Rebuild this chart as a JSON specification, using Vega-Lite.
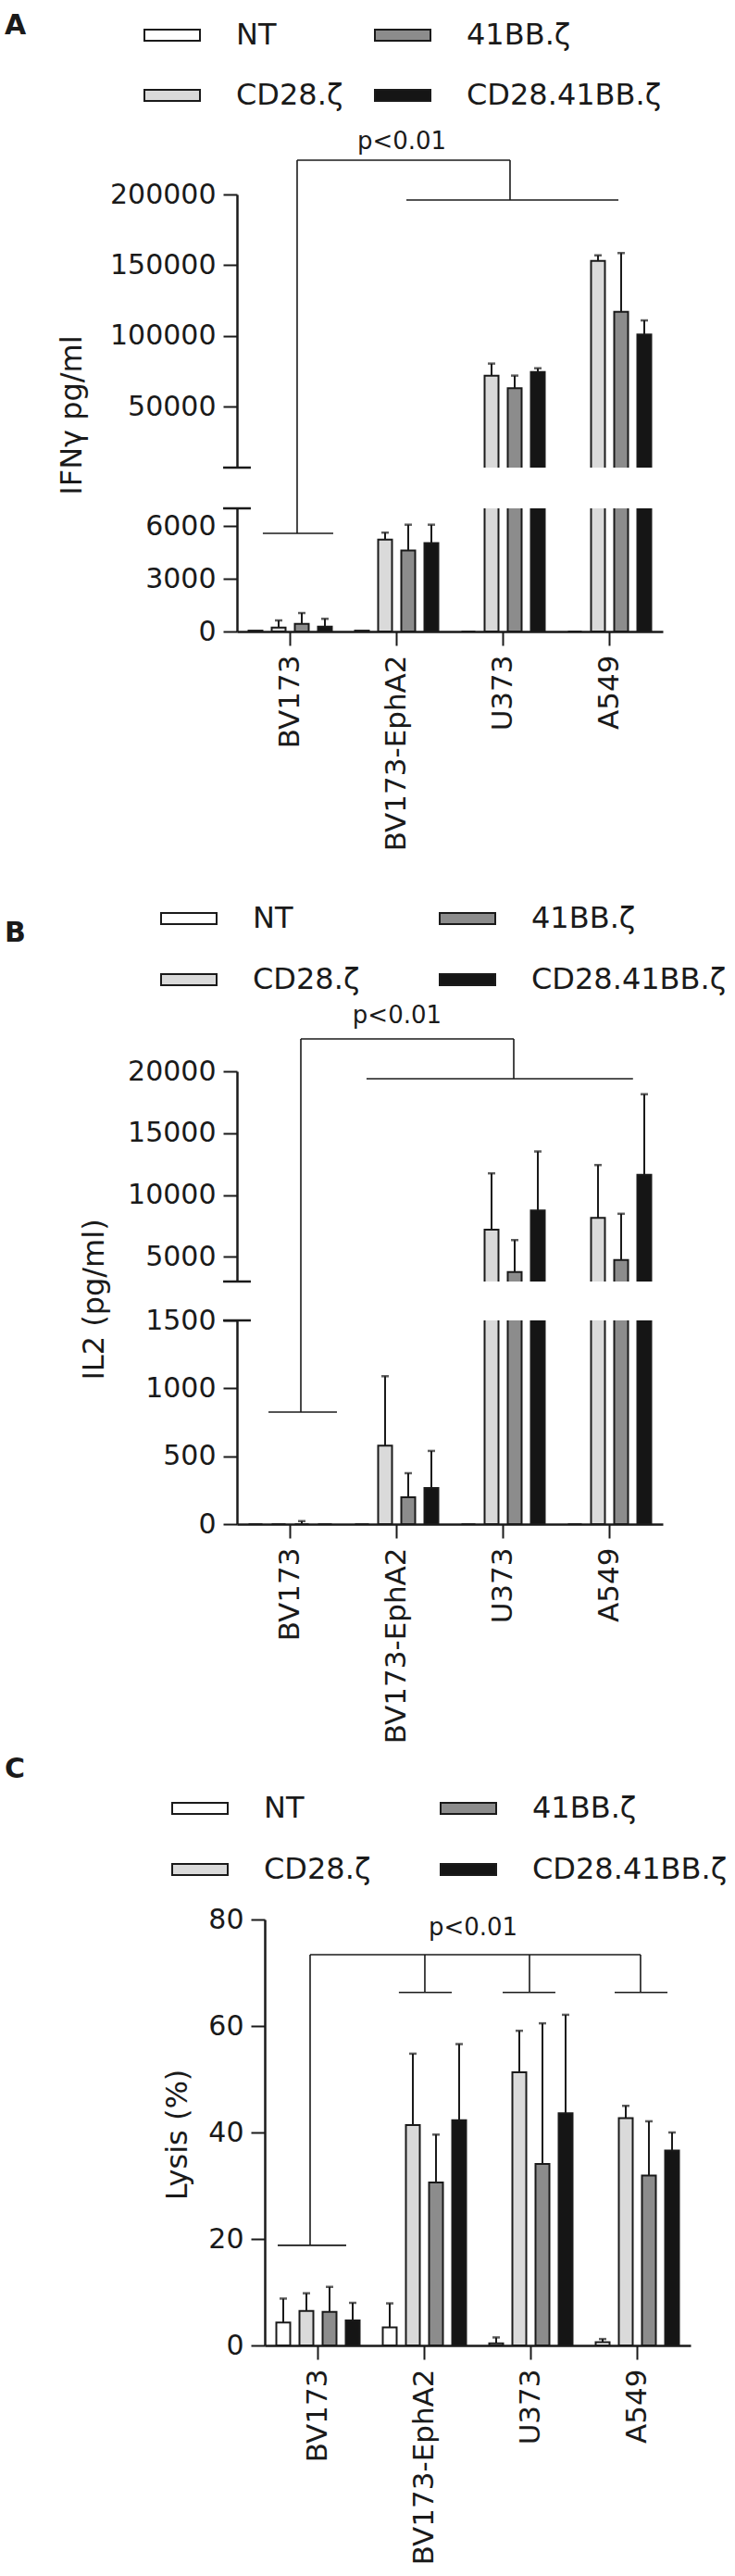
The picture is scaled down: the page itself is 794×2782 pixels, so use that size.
{
  "$schema": "https://vega.github.io/schema/vega-lite/v6.json",
  "background": "white",
  "padding": {"left": 4, "top": 7, "right": 2, "bottom": 2},
  "config": {
    "font": "DejaVu Sans",
    "view": {"stroke": null},
    "axis": {"domainColor": "#1a1a1a", "domainWidth": 2.5, "tickColor": "#1a1a1a", "tickWidth": 2, "tickSize": 15, "labelFont": "DejaVu Sans", "labelFontSize": 30, "labelColor": "#1a1a1a", "labelPadding": 8, "labelLimit": 400, "grid": false, "titleFont": "DejaVu Sans", "titleFontSize": 32, "titleFontWeight": "normal", "titleColor": "#1a1a1a"},
    "text": {"font": "DejaVu Sans", "color": "#1a1a1a"}
  },
  "datasets": {
    "ifng": [
      {"cell": "BV173", "car": "NT", "mean": 50},
      {"cell": "BV173", "car": "CD28.ζ", "mean": 230, "hi": 630},
      {"cell": "BV173", "car": "41BB.ζ", "mean": 440, "hi": 1050},
      {"cell": "BV173", "car": "CD28.41BB.ζ", "mean": 280, "hi": 720},
      {"cell": "BV173-EphA2", "car": "NT", "mean": 50},
      {"cell": "BV173-EphA2", "car": "CD28.ζ", "mean": 5230, "hi": 5620},
      {"cell": "BV173-EphA2", "car": "41BB.ζ", "mean": 4600, "hi": 6070},
      {"cell": "BV173-EphA2", "car": "CD28.41BB.ζ", "mean": 5020, "hi": 6070},
      {"cell": "U373", "car": "NT", "mean": 0},
      {"cell": "U373", "car": "CD28.ζ", "mean": 72000, "hi": 80500},
      {"cell": "U373", "car": "41BB.ζ", "mean": 63100, "hi": 72000},
      {"cell": "U373", "car": "CD28.41BB.ζ", "mean": 74600, "hi": 77200},
      {"cell": "A549", "car": "NT", "mean": 0},
      {"cell": "A549", "car": "CD28.ζ", "mean": 153100, "hi": 157000},
      {"cell": "A549", "car": "41BB.ζ", "mean": 117100, "hi": 158600},
      {"cell": "A549", "car": "CD28.41BB.ζ", "mean": 101000, "hi": 111000}
    ],
    "il2": [
      {"cell": "BV173", "car": "NT", "mean": 0},
      {"cell": "BV173", "car": "CD28.ζ", "mean": 0},
      {"cell": "BV173", "car": "41BB.ζ", "mean": 0, "hi": 22},
      {"cell": "BV173", "car": "CD28.41BB.ζ", "mean": 0},
      {"cell": "BV173-EphA2", "car": "NT", "mean": 0},
      {"cell": "BV173-EphA2", "car": "CD28.ζ", "mean": 577, "hi": 1089},
      {"cell": "BV173-EphA2", "car": "41BB.ζ", "mean": 198, "hi": 375},
      {"cell": "BV173-EphA2", "car": "CD28.41BB.ζ", "mean": 266, "hi": 539},
      {"cell": "U373", "car": "NT", "mean": 0},
      {"cell": "U373", "car": "CD28.ζ", "mean": 7200, "hi": 11750},
      {"cell": "U373", "car": "41BB.ζ", "mean": 3770, "hi": 6350},
      {"cell": "U373", "car": "CD28.41BB.ζ", "mean": 8740, "hi": 13520},
      {"cell": "A549", "car": "NT", "mean": 0},
      {"cell": "A549", "car": "CD28.ζ", "mean": 8140, "hi": 12420},
      {"cell": "A549", "car": "41BB.ζ", "mean": 4750, "hi": 8480},
      {"cell": "A549", "car": "CD28.41BB.ζ", "mean": 11640, "hi": 18150}
    ],
    "lysis": [
      {"cell": "BV173", "car": "NT", "mean": 4.3, "hi": 8.8},
      {"cell": "BV173", "car": "CD28.ζ", "mean": 6.5, "hi": 9.8},
      {"cell": "BV173", "car": "41BB.ζ", "mean": 6.3, "hi": 11.0},
      {"cell": "BV173", "car": "CD28.41BB.ζ", "mean": 4.7, "hi": 8.0},
      {"cell": "BV173-EphA2", "car": "NT", "mean": 3.4, "hi": 7.9},
      {"cell": "BV173-EphA2", "car": "CD28.ζ", "mean": 41.4, "hi": 54.8},
      {"cell": "BV173-EphA2", "car": "41BB.ζ", "mean": 30.6, "hi": 39.6},
      {"cell": "BV173-EphA2", "car": "CD28.41BB.ζ", "mean": 42.3, "hi": 56.6},
      {"cell": "U373", "car": "NT", "mean": 0.4, "hi": 1.5},
      {"cell": "U373", "car": "CD28.ζ", "mean": 51.3, "hi": 59.1},
      {"cell": "U373", "car": "41BB.ζ", "mean": 34.1, "hi": 60.5},
      {"cell": "U373", "car": "CD28.41BB.ζ", "mean": 43.6, "hi": 62.1},
      {"cell": "A549", "car": "NT", "mean": 0.6, "hi": 1.2},
      {"cell": "A549", "car": "CD28.ζ", "mean": 42.7, "hi": 45.0},
      {"cell": "A549", "car": "41BB.ζ", "mean": 31.9, "hi": 42.1},
      {"cell": "A549", "car": "CD28.41BB.ζ", "mean": 36.6, "hi": 40.0}
    ]
  },
  "bounds": "flush",
  "spacing": 0,
  "resolve": {"scale": {"fill": "independent"}, "legend": {"fill": "independent"}},
  "vconcat": [
    {
      "width": 460, "height": 295,
      "resolve": {"scale": {"x": "independent", "y": "independent"}, "axis": {"x": "independent", "y": "independent"}},
      "layer": [
        {
          "data": {"name": "ifng"},
          "encoding": {
            "x": {"field": "cell", "type": "nominal", "sort": null, "scale": {"domain": ["BV173", "BV173-EphA2", "U373", "A549"], "paddingInner": 0, "paddingOuter": 0}, "axis": null},
            "xOffset": {"field": "car", "type": "nominal", "scale": {"domain": ["NT", "CD28.ζ", "41BB.ζ", "CD28.41BB.ζ"], "paddingInner": 0.4, "paddingOuter": 0.5}}
          },
          "layer": [
            {
              "mark": {"type": "bar", "stroke": "#1a1a1a", "strokeWidth": 2, "clip": true},
              "encoding": {
                "y": {"field": "mean", "type": "quantitative", "scale": {"domain": [7000, 200000], "nice": false, "zero": false}, "axis": {"values": [50000, 100000, 150000, 200000], "format": "d", "title": "IFNγ pg/ml", "titleX": -179, "titleY": 238, "titleAngle": 270, "titleAlign": "center", "titleBaseline": "middle"}},
                "fill": {"field": "car", "type": "nominal", "scale": {"domain": ["NT", "CD28.ζ", "41BB.ζ", "CD28.41BB.ζ"], "range": ["#ffffff", "#dadada", "#8c8c8c", "#151515"]}, "legend": {"orient": "none", "legendX": -101, "legendY": -203, "columns": 2, "title": null, "symbolType": "M-1,-0.2H1V0.2H-1Z", "symbolSize": 3600, "symbolStrokeColor": "#1a1a1a", "symbolStrokeWidth": 2, "labelFont": "DejaVu Sans", "labelFontSize": 32, "labelColor": "#1a1a1a", "labelOffset": 38, "columnPadding": 30, "rowPadding": 18, "labelLimit": 400}}
              }
            },
            {
              "transform": [{"filter": "isValid(datum.hi)"}],
              "mark": {"type": "rule", "strokeWidth": 2, "color": "#1a1a1a", "clip": true},
              "encoding": {
                "y": {"field": "hi", "type": "quantitative", "scale": {"domain": [7000, 200000], "nice": false, "zero": false}, "axis": {"values": [50000, 100000, 150000, 200000], "format": "d", "title": "IFNγ pg/ml", "titleX": -179, "titleY": 238, "titleAngle": 270, "titleAlign": "center", "titleBaseline": "middle"}},
                "y2": {"field": "mean"}
              }
            },
            {
              "transform": [{"filter": "isValid(datum.hi)"}],
              "mark": {"type": "tick", "orient": "horizontal", "size": 8, "thickness": 2.5, "color": "#1a1a1a", "clip": true},
              "encoding": {
                "y": {"field": "hi", "type": "quantitative", "scale": {"domain": [7000, 200000], "nice": false, "zero": false}, "axis": {"values": [50000, 100000, 150000, 200000], "format": "d", "title": "IFNγ pg/ml", "titleX": -179, "titleY": 238, "titleAngle": 270, "titleAlign": "center", "titleBaseline": "middle"}}
              }
            }
          ]
        },
        {
          "layer": [
            {
              "data": {"values": [
                {"x1": 0.565, "x2": 2.565, "y1": 224200, "y2": 224200},
                {"x1": 0.565, "x2": 0.565, "y1": 7000, "y2": 224200},
                {"x1": 2.565, "x2": 2.565, "y1": 196100, "y2": 224200},
                {"x1": 1.591, "x2": 3.583, "y1": 196100, "y2": 196100}
              ]},
              "mark": {"type": "rule", "strokeWidth": 1.6, "color": "#1a1a1a"},
              "encoding": {
                "x": {"field": "x1", "type": "quantitative", "scale": {"domain": [0, 4], "nice": false, "zero": false}, "axis": null},
                "x2": {"field": "x2"},
                "y": {"field": "y1", "type": "quantitative", "scale": {"domain": [7000, 200000], "nice": false, "zero": false}, "axis": null},
                "y2": {"field": "y2"}
              }
            },
            {
              "data": {"values": [{"x1": -0.13, "x2": 0.13, "y1": 7000, "y2": 7000}]},
              "mark": {"type": "rule", "strokeWidth": 2.5, "color": "#1a1a1a"},
              "encoding": {"x": {"field": "x1", "type": "quantitative"}, "x2": {"field": "x2"}, "y": {"field": "y1", "type": "quantitative"}, "y2": {"field": "y2"}}
            },
            {
              "data": {"values": [{"x": -2.183, "y": 328900, "label": "A"}]},
              "mark": {"type": "text", "fontSize": 30, "fontWeight": "bold", "align": "left", "baseline": "top"},
              "encoding": {"x": {"field": "x", "type": "quantitative"}, "y": {"field": "y", "type": "quantitative"}, "text": {"field": "label"}}
            },
            {
              "data": {"values": [{"x": 1.548, "y": 232000, "label": "p<0.01"}]},
              "mark": {"type": "text", "fontSize": 26, "align": "center", "baseline": "alphabetic"},
              "encoding": {"x": {"field": "x", "type": "quantitative"}, "y": {"field": "y", "type": "quantitative"}, "text": {"field": "label"}}
            }
          ]
        }
      ]
    },
    {"width": 10, "height": 44, "data": {"values": []}, "mark": {"type": "point", "opacity": 0}, "encoding": {}},
    {
      "width": 460, "height": 133,
      "resolve": {"scale": {"x": "independent", "y": "independent"}, "axis": {"x": "independent", "y": "independent"}},
      "layer": [
        {
          "data": {"name": "ifng"},
          "encoding": {
            "x": {"field": "cell", "type": "nominal", "sort": null, "scale": {"domain": ["BV173", "BV173-EphA2", "U373", "A549"], "paddingInner": 0, "paddingOuter": 0}, "axis": {"title": null, "labelAngle": 270, "labelFontSize": 31, "labelPadding": 10}},
            "xOffset": {"field": "car", "type": "nominal", "scale": {"domain": ["NT", "CD28.ζ", "41BB.ζ", "CD28.41BB.ζ"], "paddingInner": 0.4, "paddingOuter": 0.5}}
          },
          "layer": [
            {
              "mark": {"type": "bar", "stroke": "#1a1a1a", "strokeWidth": 2, "clip": true},
              "encoding": {
                "y": {"field": "mean", "type": "quantitative", "scale": {"domain": [0, 7000], "nice": false, "zero": false}, "axis": {"values": [0, 3000, 6000], "format": "d", "title": null}},
                "fill": {"field": "car", "type": "nominal", "scale": {"domain": ["NT", "CD28.ζ", "41BB.ζ", "CD28.41BB.ζ"], "range": ["#ffffff", "#dadada", "#8c8c8c", "#151515"]}, "legend": null}
              }
            },
            {
              "transform": [{"filter": "isValid(datum.hi)"}],
              "mark": {"type": "rule", "strokeWidth": 2, "color": "#1a1a1a", "clip": true},
              "encoding": {
                "y": {"field": "hi", "type": "quantitative", "scale": {"domain": [0, 7000], "nice": false, "zero": false}, "axis": {"values": [0, 3000, 6000], "format": "d", "title": null}},
                "y2": {"field": "mean"}
              }
            },
            {
              "transform": [{"filter": "isValid(datum.hi)"}],
              "mark": {"type": "tick", "orient": "horizontal", "size": 8, "thickness": 2.5, "color": "#1a1a1a", "clip": true},
              "encoding": {
                "y": {"field": "hi", "type": "quantitative", "scale": {"domain": [0, 7000], "nice": false, "zero": false}, "axis": {"values": [0, 3000, 6000], "format": "d", "title": null}}
              }
            }
          ]
        },
        {
          "layer": [
            {
              "data": {"values": [
                {"x1": 0.565, "x2": 0.565, "y1": 5580, "y2": 9320},
                {"x1": 0.243, "x2": 0.904, "y1": 5580, "y2": 5580}
              ]},
              "mark": {"type": "rule", "strokeWidth": 1.6, "color": "#1a1a1a"},
              "encoding": {
                "x": {"field": "x1", "type": "quantitative", "scale": {"domain": [0, 4], "nice": false, "zero": false}, "axis": null},
                "x2": {"field": "x2"},
                "y": {"field": "y1", "type": "quantitative", "scale": {"domain": [0, 7000], "nice": false, "zero": false}, "axis": null},
                "y2": {"field": "y2"}
              }
            },
            {
              "data": {"values": [{"x1": -0.13, "x2": 0.13, "y1": 7000, "y2": 7000}]},
              "mark": {"type": "rule", "strokeWidth": 2.5, "color": "#1a1a1a"},
              "encoding": {"x": {"field": "x1", "type": "quantitative"}, "x2": {"field": "x2"}, "y": {"field": "y1", "type": "quantitative"}, "y2": {"field": "y2"}}
            }
          ]
        }
      ]
    },
    {"width": 10, "height": 475, "data": {"values": []}, "mark": {"type": "point", "opacity": 0}, "encoding": {}},
    {
      "width": 460, "height": 227,
      "resolve": {"scale": {"x": "independent", "y": "independent"}, "axis": {"x": "independent", "y": "independent"}},
      "layer": [
        {
          "data": {"name": "il2"},
          "encoding": {
            "x": {"field": "cell", "type": "nominal", "sort": null, "scale": {"domain": ["BV173", "BV173-EphA2", "U373", "A549"], "paddingInner": 0, "paddingOuter": 0}, "axis": null},
            "xOffset": {"field": "car", "type": "nominal", "scale": {"domain": ["NT", "CD28.ζ", "41BB.ζ", "CD28.41BB.ζ"], "paddingInner": 0.4, "paddingOuter": 0.5}}
          },
          "layer": [
            {
              "mark": {"type": "bar", "stroke": "#1a1a1a", "strokeWidth": 2, "clip": true},
              "encoding": {
                "y": {"field": "mean", "type": "quantitative", "scale": {"domain": [3000, 20000], "nice": false, "zero": false}, "axis": {"values": [5000, 10000, 15000, 20000], "format": "d", "title": "IL2 (pg/ml)", "titleX": -155, "titleY": 246, "titleAngle": 270, "titleAlign": "center", "titleBaseline": "middle"}},
                "fill": {"field": "car", "type": "nominal", "scale": {"domain": ["NT", "CD28.ζ", "41BB.ζ", "CD28.41BB.ζ"], "range": ["#ffffff", "#dadada", "#8c8c8c", "#151515"]}, "legend": {"orient": "none", "legendX": -83, "legendY": -196, "columns": 2, "title": null, "symbolType": "M-1,-0.2H1V0.2H-1Z", "symbolSize": 3600, "symbolStrokeColor": "#1a1a1a", "symbolStrokeWidth": 2, "labelFont": "DejaVu Sans", "labelFontSize": 32, "labelColor": "#1a1a1a", "labelOffset": 38, "columnPadding": 82, "rowPadding": 19, "labelLimit": 400}}
              }
            },
            {
              "transform": [{"filter": "isValid(datum.hi)"}],
              "mark": {"type": "rule", "strokeWidth": 2, "color": "#1a1a1a", "clip": true},
              "encoding": {
                "y": {"field": "hi", "type": "quantitative", "scale": {"domain": [3000, 20000], "nice": false, "zero": false}, "axis": {"values": [5000, 10000, 15000, 20000], "format": "d", "title": "IL2 (pg/ml)", "titleX": -155, "titleY": 246, "titleAngle": 270, "titleAlign": "center", "titleBaseline": "middle"}},
                "y2": {"field": "mean"}
              }
            },
            {
              "transform": [{"filter": "isValid(datum.hi)"}],
              "mark": {"type": "tick", "orient": "horizontal", "size": 8, "thickness": 2.5, "color": "#1a1a1a", "clip": true},
              "encoding": {
                "y": {"field": "hi", "type": "quantitative", "scale": {"domain": [3000, 20000], "nice": false, "zero": false}, "axis": {"values": [5000, 10000, 15000, 20000], "format": "d", "title": "IL2 (pg/ml)", "titleX": -155, "titleY": 246, "titleAngle": 270, "titleAlign": "center", "titleBaseline": "middle"}}
              }
            }
          ]
        },
        {
          "layer": [
            {
              "data": {"values": [
                {"x1": 0.6, "x2": 2.6, "y1": 22620, "y2": 22620},
                {"x1": 0.6, "x2": 0.6, "y1": 3000, "y2": 22620},
                {"x1": 2.6, "x2": 2.6, "y1": 19400, "y2": 22620},
                {"x1": 1.217, "x2": 3.72, "y1": 19400, "y2": 19400}
              ]},
              "mark": {"type": "rule", "strokeWidth": 1.6, "color": "#1a1a1a"},
              "encoding": {
                "x": {"field": "x1", "type": "quantitative", "scale": {"domain": [0, 4], "nice": false, "zero": false}, "axis": null},
                "x2": {"field": "x2"},
                "y": {"field": "y1", "type": "quantitative", "scale": {"domain": [3000, 20000], "nice": false, "zero": false}, "axis": null},
                "y2": {"field": "y2"}
              }
            },
            {
              "data": {"values": [{"x1": -0.13, "x2": 0.13, "y1": 3000, "y2": 3000}]},
              "mark": {"type": "rule", "strokeWidth": 2.5, "color": "#1a1a1a"},
              "encoding": {"x": {"field": "x1", "type": "quantitative"}, "x2": {"field": "x2"}, "y": {"field": "y1", "type": "quantitative"}, "y2": {"field": "y2"}}
            },
            {
              "data": {"values": [{"x": -2.183, "y": 32280, "label": "B"}]},
              "mark": {"type": "text", "fontSize": 30, "fontWeight": "bold", "align": "left", "baseline": "top"},
              "encoding": {"x": {"field": "x", "type": "quantitative"}, "y": {"field": "y", "type": "quantitative"}, "text": {"field": "label"}}
            },
            {
              "data": {"values": [{"x": 1.504, "y": 23900, "label": "p<0.01"}]},
              "mark": {"type": "text", "fontSize": 26, "align": "center", "baseline": "alphabetic"},
              "encoding": {"x": {"field": "x", "type": "quantitative"}, "y": {"field": "y", "type": "quantitative"}, "text": {"field": "label"}}
            }
          ]
        }
      ]
    },
    {"width": 10, "height": 42, "data": {"values": []}, "mark": {"type": "point", "opacity": 0}, "encoding": {}},
    {
      "width": 460, "height": 220,
      "resolve": {"scale": {"x": "independent", "y": "independent"}, "axis": {"x": "independent", "y": "independent"}},
      "layer": [
        {
          "data": {"name": "il2"},
          "encoding": {
            "x": {"field": "cell", "type": "nominal", "sort": null, "scale": {"domain": ["BV173", "BV173-EphA2", "U373", "A549"], "paddingInner": 0, "paddingOuter": 0}, "axis": {"title": null, "labelAngle": 270, "labelFontSize": 31, "labelPadding": 10}},
            "xOffset": {"field": "car", "type": "nominal", "scale": {"domain": ["NT", "CD28.ζ", "41BB.ζ", "CD28.41BB.ζ"], "paddingInner": 0.4, "paddingOuter": 0.5}}
          },
          "layer": [
            {
              "mark": {"type": "bar", "stroke": "#1a1a1a", "strokeWidth": 2, "clip": true},
              "encoding": {
                "y": {"field": "mean", "type": "quantitative", "scale": {"domain": [0, 1500], "nice": false, "zero": false}, "axis": {"values": [0, 500, 1000, 1500], "format": "d", "title": null}},
                "fill": {"field": "car", "type": "nominal", "scale": {"domain": ["NT", "CD28.ζ", "41BB.ζ", "CD28.41BB.ζ"], "range": ["#ffffff", "#dadada", "#8c8c8c", "#151515"]}, "legend": null}
              }
            },
            {
              "transform": [{"filter": "isValid(datum.hi)"}],
              "mark": {"type": "rule", "strokeWidth": 2, "color": "#1a1a1a", "clip": true},
              "encoding": {
                "y": {"field": "hi", "type": "quantitative", "scale": {"domain": [0, 1500], "nice": false, "zero": false}, "axis": {"values": [0, 500, 1000, 1500], "format": "d", "title": null}},
                "y2": {"field": "mean"}
              }
            },
            {
              "transform": [{"filter": "isValid(datum.hi)"}],
              "mark": {"type": "tick", "orient": "horizontal", "size": 8, "thickness": 2.5, "color": "#1a1a1a", "clip": true},
              "encoding": {
                "y": {"field": "hi", "type": "quantitative", "scale": {"domain": [0, 1500], "nice": false, "zero": false}, "axis": {"values": [0, 500, 1000, 1500], "format": "d", "title": null}}
              }
            }
          ]
        },
        {
          "layer": [
            {
              "data": {"values": [
                {"x1": 0.6, "x2": 0.6, "y1": 825, "y2": 1786},
                {"x1": 0.296, "x2": 0.939, "y1": 825, "y2": 825}
              ]},
              "mark": {"type": "rule", "strokeWidth": 1.6, "color": "#1a1a1a"},
              "encoding": {
                "x": {"field": "x1", "type": "quantitative", "scale": {"domain": [0, 4], "nice": false, "zero": false}, "axis": null},
                "x2": {"field": "x2"},
                "y": {"field": "y1", "type": "quantitative", "scale": {"domain": [0, 1500], "nice": false, "zero": false}, "axis": null},
                "y2": {"field": "y2"}
              }
            },
            {
              "data": {"values": [{"x1": -0.13, "x2": 0.13, "y1": 1500, "y2": 1500}]},
              "mark": {"type": "rule", "strokeWidth": 2.5, "color": "#1a1a1a"},
              "encoding": {"x": {"field": "x1", "type": "quantitative"}, "x2": {"field": "x2"}, "y": {"field": "y1", "type": "quantitative"}, "y2": {"field": "y2"}}
            }
          ]
        }
      ]
    },
    {"width": 10, "height": 427, "data": {"values": []}, "mark": {"type": "point", "opacity": 0}, "encoding": {}},
    {
      "bounds": "flush",
      "spacing": 0,
      "resolve": {"scale": {"fill": "independent"}, "legend": {"fill": "independent"}},
      "hconcat": [
        {"width": 30, "height": 10, "data": {"values": []}, "mark": {"type": "point", "opacity": 0}, "encoding": {}},
        {
          "width": 460, "height": 460,
          "resolve": {"scale": {"x": "independent", "y": "independent"}, "axis": {"x": "independent", "y": "independent"}},
          "layer": [
            {
              "data": {"name": "lysis"},
              "encoding": {
                "x": {"field": "cell", "type": "nominal", "sort": null, "scale": {"domain": ["BV173", "BV173-EphA2", "U373", "A549"], "paddingInner": 0, "paddingOuter": 0}, "axis": {"title": null, "labelAngle": 270, "labelFontSize": 31, "labelPadding": 10}},
                "xOffset": {"field": "car", "type": "nominal", "scale": {"domain": ["NT", "CD28.ζ", "41BB.ζ", "CD28.41BB.ζ"], "paddingInner": 0.4, "paddingOuter": 0.5}}
              },
              "layer": [
                {
                  "mark": {"type": "bar", "stroke": "#1a1a1a", "strokeWidth": 2},
                  "encoding": {
                    "y": {"field": "mean", "type": "quantitative", "scale": {"domain": [0, 80], "nice": false, "zero": false}, "axis": {"values": [0, 20, 40, 60, 80], "title": "Lysis (%)", "titleX": -95, "titleY": 232, "titleAngle": 270, "titleAlign": "center", "titleBaseline": "middle"}},
                    "fill": {"field": "car", "type": "nominal", "scale": {"domain": ["NT", "CD28.ζ", "41BB.ζ", "CD28.41BB.ζ"], "range": ["#ffffff", "#dadada", "#8c8c8c", "#151515"]}, "legend": {"orient": "none", "legendX": -101, "legendY": -151, "columns": 2, "title": null, "symbolType": "M-1,-0.2H1V0.2H-1Z", "symbolSize": 3600, "symbolStrokeColor": "#1a1a1a", "symbolStrokeWidth": 2, "labelFont": "DejaVu Sans", "labelFontSize": 32, "labelColor": "#1a1a1a", "labelOffset": 38, "columnPadding": 71, "rowPadding": 19, "labelLimit": 400}}
                  }
                },
                {
                  "mark": {"type": "rule", "strokeWidth": 2, "color": "#1a1a1a"},
                  "encoding": {
                    "y": {"field": "hi", "type": "quantitative", "scale": {"domain": [0, 80], "nice": false, "zero": false}, "axis": {"values": [0, 20, 40, 60, 80], "title": "Lysis (%)", "titleX": -95, "titleY": 232, "titleAngle": 270, "titleAlign": "center", "titleBaseline": "middle"}},
                    "y2": {"field": "mean"}
                  }
                },
                {
                  "mark": {"type": "tick", "orient": "horizontal", "size": 8, "thickness": 2.5, "color": "#1a1a1a"},
                  "encoding": {
                    "y": {"field": "hi", "type": "quantitative", "scale": {"domain": [0, 80], "nice": false, "zero": false}, "axis": {"values": [0, 20, 40, 60, 80], "title": "Lysis (%)", "titleX": -95, "titleY": 232, "titleAngle": 270, "titleAlign": "center", "titleBaseline": "middle"}}
                  }
                }
              ]
            },
            {
              "layer": [
                {
                  "data": {"values": [
                    {"x1": 0.426, "x2": 3.53, "y1": 73.4, "y2": 73.4},
                    {"x1": 0.426, "x2": 0.426, "y1": 18.8, "y2": 73.4},
                    {"x1": 0.122, "x2": 0.765, "y1": 18.8, "y2": 18.8},
                    {"x1": 1.504, "x2": 1.504, "y1": 66.3, "y2": 73.4},
                    {"x1": 2.487, "x2": 2.487, "y1": 66.3, "y2": 73.4},
                    {"x1": 3.53, "x2": 3.53, "y1": 66.3, "y2": 73.4},
                    {"x1": 1.26, "x2": 1.757, "y1": 66.3, "y2": 66.3},
                    {"x1": 2.235, "x2": 2.73, "y1": 66.3, "y2": 66.3},
                    {"x1": 3.287, "x2": 3.783, "y1": 66.3, "y2": 66.3}
                  ]},
                  "mark": {"type": "rule", "strokeWidth": 1.6, "color": "#1a1a1a"},
                  "encoding": {
                    "x": {"field": "x1", "type": "quantitative", "scale": {"domain": [0, 4], "nice": false, "zero": false}, "axis": null},
                    "x2": {"field": "x2"},
                    "y": {"field": "y1", "type": "quantitative", "scale": {"domain": [0, 80], "nice": false, "zero": false}, "axis": null},
                    "y2": {"field": "y2"}
                  }
                },
                {
                  "data": {"values": [{"x": -2.443, "y": 110.8, "label": "C"}]},
                  "mark": {"type": "text", "fontSize": 30, "fontWeight": "bold", "align": "left", "baseline": "top"},
                  "encoding": {"x": {"field": "x", "type": "quantitative"}, "y": {"field": "y", "type": "quantitative"}, "text": {"field": "label"}}
                },
                {
                  "data": {"values": [{"x": 1.957, "y": 77.0, "label": "p<0.01"}]},
                  "mark": {"type": "text", "fontSize": 26, "align": "center", "baseline": "alphabetic"},
                  "encoding": {"x": {"field": "x", "type": "quantitative"}, "y": {"field": "y", "type": "quantitative"}, "text": {"field": "label"}}
                }
              ]
            }
          ]
        }
      ]
    }
  ]
}
